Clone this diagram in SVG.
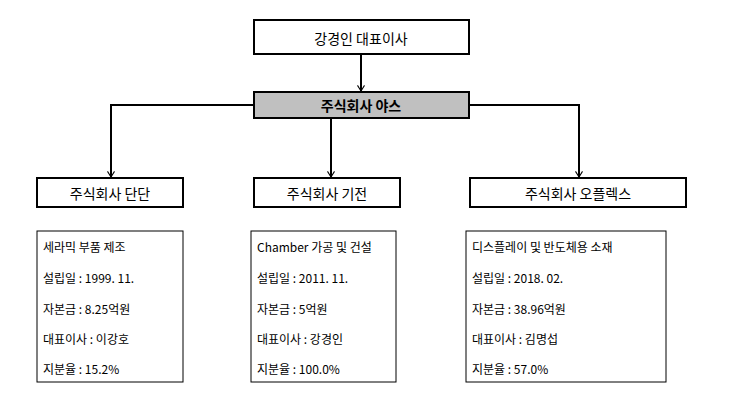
<svg xmlns="http://www.w3.org/2000/svg" width="731" height="417" viewBox="0 0 731 417">
<style>
.b{fill:#fff;stroke:#000;stroke-width:2}
.i{fill:#fff;stroke:#000;stroke-width:1}
.t{font-family:"Noto Sans CJK KR","Liberation Sans",sans-serif;font-size:14px;text-anchor:middle;dominant-baseline:central}
.s{font-family:"Noto Sans CJK KR","Liberation Sans",sans-serif;font-size:12px}
.c{fill:none;stroke:#000;stroke-width:2}
</style>
<defs><marker id="a" viewBox="0 0 10 10" refX="9" refY="5" markerWidth="7" markerHeight="9" orient="auto" markerUnits="userSpaceOnUse"><path d="M1,0 L9,5 L1,10" fill="none" stroke="#000" stroke-width="1.5"/></marker></defs>
<rect width="731" height="417" fill="#fff"/>
<g id="connectors">
<path class="c" d="M361,54 V91" marker-end="url(#a)"/>
<path class="c" d="M254,105 H111 V177" marker-end="url(#a)"/>
<path class="c" d="M331,118 V177" marker-end="url(#a)"/>
<path class="c" d="M469,105 H579 V177" marker-end="url(#a)"/>
</g>
<g id="ceo"><rect class="b" x="254" y="20" width="215" height="34"/><text class="t" x="361" y="38">강경인 대표이사</text></g>
<g id="yas"><rect x="254" y="92" width="215" height="26" fill="#c0c0c0" stroke="#000" stroke-width="2"/><text class="t" x="361" y="105" font-weight="bold">주식회사 야스</text></g>
<g id="dandan"><rect class="b" x="37" y="178" width="146" height="29"/><text class="t" x="110" y="193">주식회사 단단</text></g>
<g id="gijeon"><rect class="b" x="254" y="178" width="146" height="29"/><text class="t" x="327" y="193">주식회사 기전</text></g>
<g id="oplex"><rect class="b" x="470" y="178" width="216" height="29"/><text class="t" x="578" y="193">주식회사 오플렉스</text></g>
<g id="info1"><rect class="i" x="37" y="231" width="146" height="151"/>
<text class="s" x="43" y="252">세라믹 부품 제조</text><text class="s" x="43" y="283">설립일 : 1999. 11.</text><text class="s" x="43" y="314">자본금 : 8.25억원</text><text class="s" x="43" y="344">대표이사 : 이강호</text><text class="s" x="43" y="374">지분율 : 15.2%</text></g>
<g id="info2"><rect class="i" x="251" y="231" width="145" height="151"/>
<text class="s" x="257" y="252">Chamber 가공 및 건설</text><text class="s" x="257" y="283">설립일 : 2011. 11.</text><text class="s" x="257" y="314">자본금 : 5억원</text><text class="s" x="257" y="344">대표이사 : 강경인</text><text class="s" x="257" y="374">지분율 : 100.0%</text></g>
<g id="info3"><rect class="i" x="466" y="231" width="200" height="151"/>
<text class="s" x="472" y="252">디스플레이 및 반도체용 소재</text><text class="s" x="472" y="283">설립일 : 2018. 02.</text><text class="s" x="472" y="314">자본금 : 38.96억원</text><text class="s" x="472" y="344">대표이사 : 김명섭</text><text class="s" x="472" y="374">지분율 : 57.0%</text></g>
</svg>
